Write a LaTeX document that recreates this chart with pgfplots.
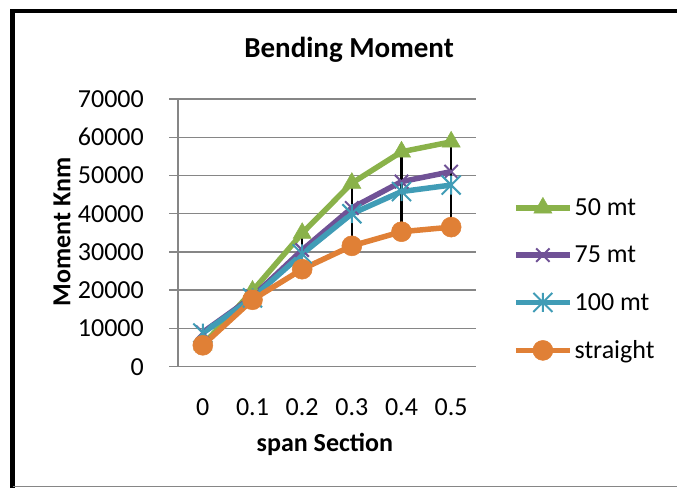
\documentclass[border=0pt]{standalone}
\usepackage{pgfplots}
\pgfplotsset{compat=1.18}
\usepackage{fontspec}
\setmainfont{Carlito}
\definecolor{cgreen}{RGB}{138,178,74}
\definecolor{cpurple}{RGB}{112,82,150}
\definecolor{cteal}{RGB}{64,156,182}
\definecolor{corange}{RGB}{224,128,54}
\definecolor{cgrid}{RGB}{134,134,134}
\pgfdeclareplotmark{xstar}{%
  \pgfpathmoveto{\pgfqpoint{-\pgfplotmarksize}{-\pgfplotmarksize}}%
  \pgfpathlineto{\pgfqpoint{\pgfplotmarksize}{\pgfplotmarksize}}%
  \pgfpathmoveto{\pgfqpoint{-\pgfplotmarksize}{\pgfplotmarksize}}%
  \pgfpathlineto{\pgfqpoint{\pgfplotmarksize}{-\pgfplotmarksize}}%
  \pgfpathmoveto{\pgfqpoint{0pt}{-\pgfplotmarksize}}%
  \pgfpathlineto{\pgfqpoint{0pt}{\pgfplotmarksize}}%
  \pgfusepathqstroke}
\begin{document}
\begin{tikzpicture}
\useasboundingbox (0,0) rectangle (677pt,488pt);
\draw[line width=5pt] (12.5pt,0) -- (12.5pt,478.7pt);
\draw[line width=3.4pt] (10pt,477pt) -- (677pt,477pt);
\draw[cgrid, line width=1.5pt] (12.5pt,1.5pt) -- (677pt,1.5pt);
\begin{axis}[
  at={(178pt,121.3pt)}, anchor=south west,
  scale only axis, width=298pt, height=267.7pt,
  xmin=-0.5, xmax=5.5, ymin=0, ymax=70000,
  xtick={0,1,2,3,4,5},
  xticklabels={0,0.1,0.2,0.3,0.4,0.5},
  ytick={0,10000,...,70000},
  scaled y ticks=false,
  /pgf/number format/assume math mode=true,
  yticklabel={\pgfmathprintnumber[fixed,1000 sep={}]{\tick}},
  font=\fontsize{26}{30}\selectfont,
  ticklabel style={font=\fontsize{26}{30}\selectfont},
  xticklabel style={anchor=center, yshift=-31pt},
  yticklabel style={anchor=east, inner sep=0pt, xshift=-25pt},
  axis x line*=bottom, axis y line*=left,
  x axis line style={cgrid, line width=1.5pt, -},
  y axis line style={cgrid, line width=1.5pt, -},
  xtick style={draw=none},
  ytick style={cgrid, line width=1.5pt},
  tick align=outside, major tick length=9pt,
  ymajorgrids, grid style={cgrid, line width=1.5pt},
  title={\textbf{Bending Moment}},
  title style={font=\fontsize{29}{34}\selectfont, at={(axis description cs:0.574,1.16)}, anchor=center},
  xlabel={\textbf{span Section}},
  xlabel style={font=\fontsize{26}{30}\selectfont, at={(axis description cs:0.493,-0.29)}, anchor=center},
  ylabel={\textbf{Moment Knm}},
  ylabel style={font=\fontsize{26}{30}\selectfont, at={(axis description cs:-0.389,0.503)}, anchor=center, rotate=0},
  legend style={at={(axis description cs:1.124,0.326)}, anchor=west, draw=none, fill=none,
    font=\fontsize{26}{30}\selectfont, row sep=25pt, inner sep=0pt},
  legend cell align=left,
  legend image code/.code={\draw[mark repeat=2,mark phase=2] plot coordinates {(0pt,0pt) (27pt,0pt) (54pt,0pt)};},
  every axis plot/.append style={line width=5.5pt},
]
\addplot[cgreen, mark=triangle*, mark size=10.5pt, mark options={solid, line width=0.5pt}] coordinates {
(0,5700) (1,19800) (2,34900) (3,48000) (4,56200) (5,58800)};
\addlegendentry{50 mt}
\addplot[cpurple, mark=x, mark size=9.5pt, mark options={solid, line width=2pt}] coordinates {
(0,9000) (1,18300) (2,30500) (3,41500) (4,48400) (5,51000)};
\addlegendentry{75 mt}
\addplot[cteal, mark=xstar, mark size=9.5pt, mark options={solid, line width=2pt}] coordinates {
(0,8800) (1,18000) (2,29500) (3,40000) (4,45800) (5,47500)};
\addlegendentry{100 mt}
\addplot[corange, mark=*, mark size=10pt, mark options={solid, line width=0.5pt}] coordinates {
(0,5600) (1,17500) (2,25500) (3,31600) (4,35300) (5,36500)};
\addlegendentry{straight}
\addplot[black, line width=2.5pt, mark=none, forget plot] coordinates {(0,5600) (0,9000)};
\addplot[black, line width=2.5pt, mark=none, forget plot] coordinates {(1,17500) (1,19800)};
\addplot[black, line width=2.5pt, mark=none, forget plot] coordinates {(2,25500) (2,34900)};
\addplot[black, line width=2.5pt, mark=none, forget plot] coordinates {(3,31600) (3,48000)};
\addplot[black, line width=2.5pt, mark=none, forget plot] coordinates {(4,35300) (4,56200)};
\addplot[black, line width=2.5pt, mark=none, forget plot] coordinates {(5,36500) (5,58800)};
\end{axis}
\end{tikzpicture}
\end{document}
